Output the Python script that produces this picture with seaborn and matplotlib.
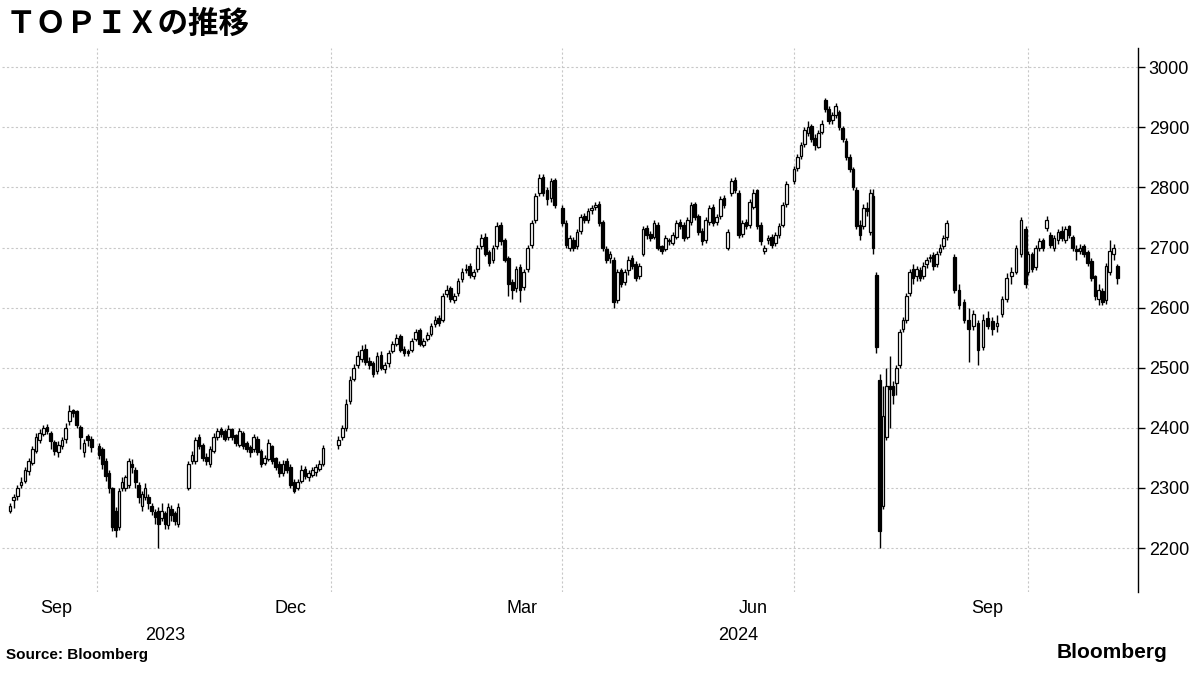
import matplotlib
matplotlib.use("Agg")
import matplotlib.pyplot as plt
import numpy as np
import pandas as pd
import seaborn as sns

# TOPIX daily candles, grouped by period
periods = [
    ("2023-08-28", "2023-09-29"),
    ("2023-10-02", "2023-11-02"),
    ("2023-11-06", "2023-12-29"),
    ("2024-01-04", "2024-03-29"),
    ("2024-04-01", "2024-06-28"),
    ("2024-07-01", "2024-07-31"),
    ("2024-08-01", "2024-08-30"),
    ("2024-09-02", "2024-09-30"),
    ("2024-10-01", "2024-11-05"),
]

opens = [
    [2262, 2280, 2286, 2305, 2312, 2328, 2342, 2362, 2380, 2390, 2402, 2392, 2376, 2360, 2370, 2382, 2412, 2430, 2428, 2402, 2360, 2386, 2382],
    [2370, 2365, 2345, 2325, 2300, 2262, 2235, 2300, 2300, 2305, 2340, 2330, 2305, 2270, 2285, 2285, 2270, 2260, 2262, 2250, 2258, 2238, 2265, 2258, 2240],
    [2300, 2345, 2345, 2385, 2372, 2352, 2340, 2362, 2385, 2398, 2394, 2385, 2398, 2388, 2372, 2392, 2375, 2368, 2365, 2382, 2362, 2342, 2348, 2370, 2350, 2340, 2325, 2345, 2335, 2310, 2300, 2312, 2332, 2318, 2322, 2326, 2332, 2340],
    [2372, 2385, 2400, 2445, 2482, 2505, 2515, 2532, 2512, 2508, 2495, 2522, 2498, 2508, 2528, 2540, 2552, 2532, 2528, 2530, 2548, 2562, 2538, 2548, 2556, 2572, 2582, 2580, 2622, 2632, 2612, 2625, 2648, 2662, 2670, 2652, 2665, 2702, 2718, 2692, 2680, 2702, 2738, 2712, 2682, 2642, 2632, 2668, 2635, 2664, 2705, 2745, 2790, 2818, 2795, 2782, 2812],
    [2765, 2740, 2700, 2712, 2702, 2728, 2752, 2745, 2762, 2768, 2772, 2742, 2698, 2682, 2680, 2612, 2662, 2642, 2662, 2682, 2672, 2652, 2690, 2732, 2722, 2718, 2738, 2702, 2698, 2712, 2708, 2718, 2742, 2738, 2718, 2742, 2772, 2752, 2728, 2712, 2742, 2768, 2742, 2752, 2782, 2700, 2790, 2812, 2790, 2722, 2742, 2738, 2768, 2795, 2738, 2695, 2712, 2718, 2708, 2720, 2738, 2772],
    [2810, 2832, 2852, 2872, 2890, 2902, 2882, 2868, 2892, 2945, 2930, 2912, 2920, 2925, 2898, 2878, 2850, 2830, 2795, 2738, 2735, 2765, 2725],
    [2785, 2655, 2480, 2270, 2385, 2470, 2470, 2475, 2505, 2565, 2580, 2625, 2665, 2652, 2662, 2652, 2672, 2682, 2688, 2672, 2692, 2702, 2718],
    [2685, 2630, 2610, 2580, 2570, 2575, 2535, 2582, 2578, 2570, 2590, 2615, 2652, 2660, 2690, 2730],
    [2660, 2690, 2668, 2700, 2712, 2732, 2720, 2700, 2712, 2728, 2712, 2735, 2718, 2698, 2695, 2702, 2692, 2678, 2652, 2615, 2628, 2612, 2660, 2690, 2670],
]
highs = [
    [2275, 2290, 2305, 2318, 2335, 2350, 2370, 2392, 2398, 2405, 2406, 2395, 2380, 2378, 2385, 2408, 2438, 2432, 2430, 2405, 2382, 2390, 2386],
    [2375, 2368, 2350, 2330, 2302, 2268, 2300, 2318, 2322, 2350, 2348, 2335, 2310, 2295, 2308, 2290, 2275, 2265, 2268, 2275, 2262, 2275, 2272, 2262, 2275],
    [2345, 2362, 2385, 2390, 2375, 2358, 2370, 2392, 2400, 2402, 2398, 2405, 2400, 2390, 2400, 2395, 2378, 2372, 2390, 2386, 2365, 2355, 2382, 2372, 2352, 2345, 2346, 2350, 2340, 2315, 2315, 2338, 2336, 2330, 2335, 2340, 2346, 2372],
    [2386, 2405, 2448, 2486, 2506, 2528, 2538, 2540, 2518, 2512, 2526, 2528, 2510, 2530, 2545, 2556, 2556, 2536, 2532, 2550, 2565, 2566, 2550, 2560, 2575, 2586, 2588, 2624, 2638, 2636, 2625, 2650, 2666, 2672, 2674, 2665, 2705, 2722, 2724, 2696, 2705, 2742, 2742, 2716, 2686, 2648, 2670, 2672, 2665, 2705, 2745, 2790, 2822, 2822, 2800, 2815, 2815],
    [2770, 2745, 2720, 2718, 2730, 2756, 2758, 2765, 2770, 2776, 2778, 2745, 2702, 2695, 2685, 2665, 2666, 2665, 2686, 2688, 2678, 2675, 2735, 2738, 2728, 2746, 2742, 2705, 2720, 2716, 2725, 2746, 2748, 2742, 2750, 2775, 2776, 2756, 2732, 2750, 2770, 2772, 2755, 2785, 2788, 2730, 2815, 2818, 2795, 2745, 2748, 2780, 2798, 2798, 2742, 2705, 2720, 2722, 2725, 2740, 2775, 2810],
    [2835, 2856, 2876, 2900, 2910, 2905, 2888, 2895, 2912, 2948, 2935, 2926, 2940, 2928, 2902, 2882, 2855, 2834, 2800, 2745, 2772, 2775, 2798],
    [2798, 2660, 2490, 2470, 2500, 2520, 2478, 2505, 2565, 2585, 2625, 2665, 2672, 2670, 2668, 2676, 2685, 2690, 2692, 2695, 2706, 2720, 2745],
    [2690, 2640, 2615, 2600, 2596, 2580, 2590, 2595, 2585, 2588, 2620, 2658, 2668, 2705, 2750, 2735],
    [2695, 2692, 2705, 2716, 2716, 2752, 2725, 2720, 2730, 2735, 2736, 2738, 2720, 2705, 2706, 2706, 2696, 2682, 2655, 2640, 2632, 2675, 2712, 2706, 2672],
]
lows = [
    [2258, 2266, 2280, 2300, 2308, 2322, 2338, 2358, 2375, 2386, 2390, 2365, 2355, 2352, 2365, 2375, 2405, 2418, 2400, 2365, 2352, 2370, 2360],
    [2348, 2332, 2312, 2292, 2228, 2218, 2230, 2295, 2295, 2300, 2325, 2300, 2275, 2262, 2280, 2265, 2255, 2240, 2200, 2245, 2232, 2232, 2245, 2238, 2235],
    [2296, 2340, 2340, 2365, 2345, 2338, 2335, 2358, 2380, 2385, 2378, 2380, 2380, 2370, 2368, 2365, 2360, 2352, 2360, 2355, 2335, 2338, 2345, 2340, 2330, 2318, 2320, 2325, 2300, 2292, 2296, 2308, 2315, 2312, 2318, 2320, 2328, 2336],
    [2365, 2380, 2395, 2440, 2478, 2500, 2510, 2505, 2498, 2485, 2490, 2496, 2492, 2502, 2524, 2536, 2526, 2520, 2520, 2526, 2544, 2536, 2535, 2544, 2552, 2568, 2570, 2576, 2618, 2610, 2608, 2620, 2642, 2658, 2650, 2648, 2660, 2698, 2686, 2670, 2675, 2698, 2705, 2676, 2620, 2615, 2626, 2610, 2630, 2660, 2700, 2740, 2785, 2785, 2770, 2776, 2765],
    [2735, 2700, 2695, 2695, 2698, 2722, 2740, 2740, 2756, 2762, 2736, 2695, 2675, 2675, 2600, 2608, 2635, 2638, 2655, 2665, 2645, 2648, 2686, 2714, 2710, 2714, 2696, 2690, 2694, 2704, 2704, 2714, 2730, 2710, 2714, 2738, 2746, 2720, 2705, 2708, 2738, 2736, 2738, 2748, 2765, 2696, 2786, 2790, 2716, 2718, 2730, 2732, 2764, 2730, 2705, 2690, 2706, 2700, 2702, 2716, 2734, 2768],
    [2805, 2828, 2848, 2868, 2886, 2875, 2862, 2865, 2888, 2925, 2905, 2906, 2915, 2895, 2875, 2845, 2825, 2795, 2730, 2712, 2730, 2752, 2720],
    [2690, 2525, 2200, 2265, 2380, 2400, 2440, 2455, 2500, 2560, 2575, 2620, 2640, 2645, 2645, 2648, 2666, 2676, 2662, 2668, 2688, 2698, 2712],
    [2625, 2598, 2575, 2510, 2562, 2505, 2530, 2565, 2555, 2560, 2585, 2610, 2640, 2656, 2685, 2632],
    [2655, 2660, 2662, 2695, 2695, 2728, 2700, 2695, 2706, 2710, 2708, 2715, 2695, 2680, 2690, 2684, 2670, 2645, 2612, 2605, 2605, 2606, 2655, 2680, 2640],
]
closes = [
    [2270, 2285, 2300, 2310, 2330, 2345, 2365, 2385, 2392, 2400, 2395, 2378, 2362, 2372, 2380, 2400, 2428, 2425, 2405, 2385, 2375, 2380, 2368],
    [2355, 2340, 2320, 2300, 2235, 2230, 2295, 2310, 2318, 2345, 2335, 2310, 2285, 2290, 2300, 2275, 2262, 2252, 2240, 2262, 2240, 2268, 2255, 2245, 2268],
    [2340, 2355, 2380, 2370, 2350, 2345, 2365, 2385, 2395, 2390, 2382, 2398, 2385, 2375, 2395, 2370, 2365, 2360, 2385, 2360, 2340, 2350, 2375, 2345, 2335, 2325, 2340, 2330, 2305, 2295, 2310, 2330, 2320, 2325, 2330, 2335, 2340, 2366],
    [2380, 2400, 2440, 2480, 2500, 2520, 2530, 2510, 2505, 2490, 2520, 2500, 2505, 2525, 2540, 2550, 2530, 2525, 2525, 2545, 2560, 2540, 2545, 2555, 2570, 2580, 2575, 2620, 2630, 2615, 2620, 2645, 2660, 2665, 2655, 2660, 2700, 2715, 2690, 2675, 2700, 2735, 2710, 2680, 2640, 2630, 2665, 2630, 2660, 2700, 2740, 2785, 2815, 2790, 2780, 2810, 2770],
    [2740, 2705, 2715, 2700, 2725, 2750, 2745, 2760, 2765, 2770, 2740, 2700, 2680, 2690, 2610, 2660, 2640, 2660, 2680, 2670, 2650, 2670, 2730, 2720, 2715, 2740, 2700, 2695, 2715, 2710, 2720, 2740, 2735, 2715, 2745, 2770, 2750, 2725, 2710, 2745, 2765, 2740, 2750, 2780, 2770, 2725, 2810, 2795, 2720, 2740, 2735, 2775, 2790, 2735, 2710, 2700, 2715, 2705, 2720, 2735, 2770, 2805],
    [2830, 2850, 2870, 2895, 2900, 2880, 2870, 2890, 2905, 2930, 2910, 2920, 2935, 2900, 2880, 2850, 2830, 2800, 2735, 2720, 2765, 2760, 2790],
    [2700, 2535, 2228, 2420, 2470, 2465, 2455, 2500, 2560, 2580, 2620, 2660, 2650, 2665, 2650, 2670, 2680, 2685, 2670, 2690, 2700, 2715, 2740],
    [2630, 2605, 2580, 2565, 2590, 2530, 2580, 2570, 2565, 2575, 2615, 2650, 2660, 2700, 2745, 2640],
    [2690, 2665, 2700, 2710, 2700, 2745, 2705, 2715, 2725, 2715, 2730, 2720, 2700, 2695, 2700, 2690, 2675, 2650, 2620, 2630, 2610, 2670, 2695, 2700, 2650],
]

# spread each period's candles evenly across its dates
dates = []
for (start, end), c in zip(periods, closes):
    dates.extend(pd.date_range(start, end, periods=len(c)))

df = pd.DataFrame({
    "date": dates,
    "open": sum(opens, []),
    "high": sum(highs, []),
    "low": sum(lows, []),
    "close": sum(closes, []),
})
df["up"] = df["close"] >= df["open"]

sns.set_theme(style="white")
plt.rcParams["font.family"] = ["Liberation Sans", "Noto Sans CJK JP", "DejaVu Sans"]
plt.rcParams["text.color"] = "black"
plt.rcParams["xtick.color"] = "black"
plt.rcParams["ytick.color"] = "black"

fig = plt.figure(figsize=(12, 6.75), dpi=100)
ax = fig.add_axes([0.002, 0.123, 0.946, 0.806])

ax.vlines(df["date"], df["low"], df["high"], color="black", lw=1, zorder=2)
body_lo = df[["open", "close"]].min(axis=1)
body_h = (df["close"] - df["open"]).abs().clip(lower=1.5)
ax.bar(df["date"], body_h, bottom=body_lo, width=1.05,
       color=np.where(df["up"], "white", "black"), edgecolor="black",
       linewidth=0.9, zorder=3)

ax.set_xlim(pd.Timestamp("2023-08-25"), pd.Timestamp("2024-11-13"))
ax.set_ylim(2127, 3032)

ax.yaxis.tick_right()
ax.set_yticks(range(2200, 3001, 100))
ax.tick_params(axis="y", length=5, width=1, color="black", labelsize=13, pad=3, right=True)
for y in range(2200, 3001, 100):
    ax.axhline(y, color="#c8c8c8", ls=(0, (2, 2)), lw=0.8, zorder=0)
for d in ["2023-10-01", "2024-01-01", "2024-04-01", "2024-07-01", "2024-10-01"]:
    ax.axvline(pd.Timestamp(d), color="#c8c8c8", ls=(0, (2, 2)), lw=0.8, zorder=0)

ax.set_xticks([pd.Timestamp(d) for d in ["2023-09-15", "2023-12-16", "2024-03-16", "2024-06-15", "2024-09-15"]])
ax.set_xticklabels(["Sep", "Dec", "Mar", "Jun", "Sep"])
ax.tick_params(axis="x", length=0, labelsize=13, pad=6)
ax.text(pd.Timestamp("2023-10-28"), -0.065, "2023", transform=ax.get_xaxis_transform(),
        ha="center", va="top", fontsize=13)
ax.text(pd.Timestamp("2024-06-09"), -0.065, "2024", transform=ax.get_xaxis_transform(),
        ha="center", va="top", fontsize=13)

for s in ["top", "left", "bottom"]:
    ax.spines[s].set_visible(False)
ax.spines["right"].set_color("black")
ax.spines["right"].set_linewidth(1)

fig.text(0.005, 0.965, "ＴＯＰＩＸの推移", fontsize=22, fontweight="bold", va="center", ha="left",
         family=["Noto Sans CJK JP"])
fig.text(0.005, 0.02, "Source: Bloomberg", fontsize=11, fontweight="bold", va="bottom")
fig.text(0.973, 0.02, "Bloomberg", fontsize=15, fontweight="bold", va="bottom", ha="right")

fig.savefig("out.png", dpi=100)
